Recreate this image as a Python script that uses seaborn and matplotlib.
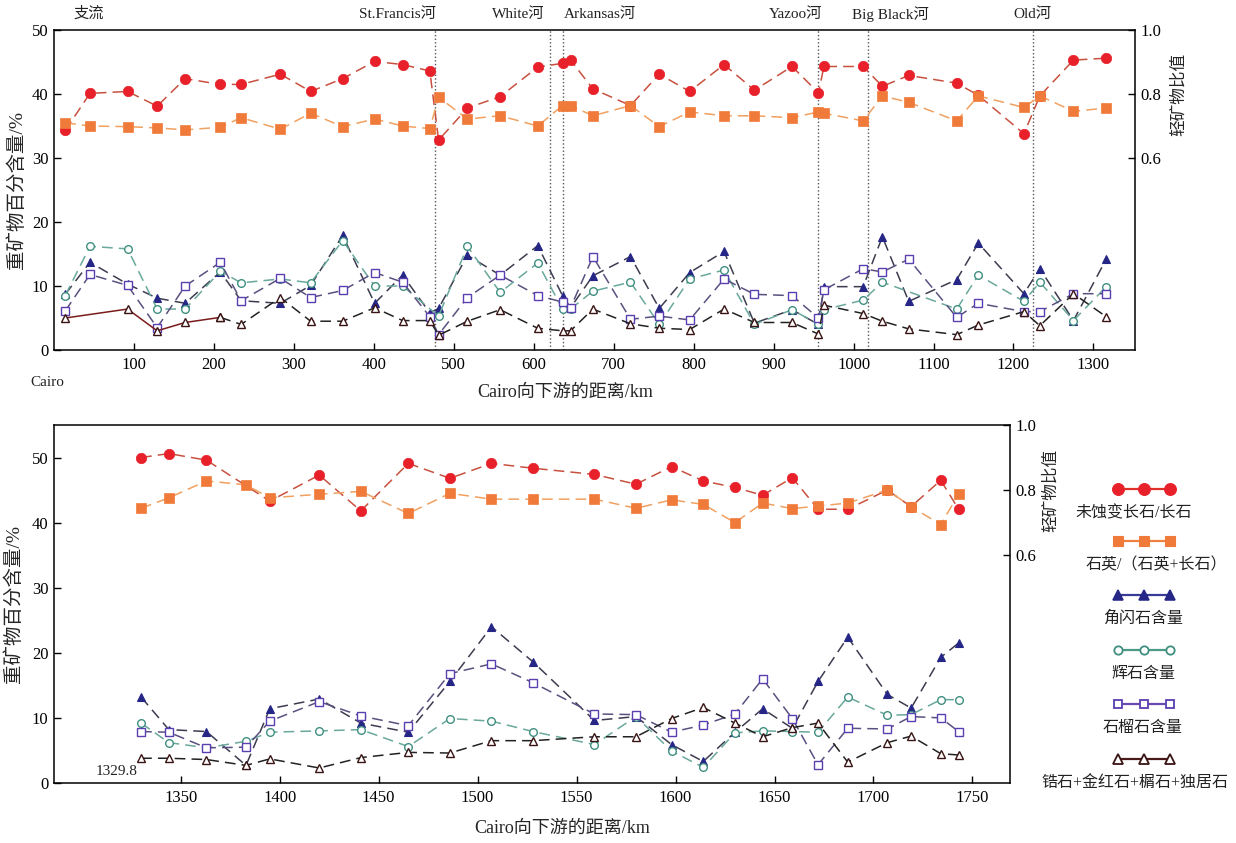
"""
密西西比河下游轻、重矿物沿程变化图
"""

import pandas as pd
import matplotlib
matplotlib.use('Agg')
import matplotlib.pyplot as plt
import matplotlib.transforms as mtransforms
import seaborn as sns
import warnings
warnings.filterwarnings('ignore')

# ==================== 数据 ====================
# 上图：Cairo 向下游距离 (km)
KM_TOP = [14, 45, 92, 129, 164, 208, 234, 283, 321, 361, 401, 436, 470, 481, 517,
          558, 605, 636, 646, 674, 721, 757, 795, 838, 876, 923, 956, 963, 1012,
          1036, 1069, 1129, 1156, 1213, 1233, 1275, 1316]
# 轻矿物比值（右轴）
FELD_TOP = [0.686, 0.802, 0.808, 0.762, 0.848, 0.830, 0.830, 0.862, 0.808, 0.848,
            0.902, 0.892, 0.872, 0.656, 0.756, 0.792, 0.884, 0.896, 0.906, 0.816,
            0.764, 0.862, 0.808, 0.892, 0.812, 0.886, 0.804, 0.886, 0.886, 0.824,
            0.858, 0.834, 0.796, 0.676, 0.794, 0.906, 0.912]
QTZ_TOP = [0.710, 0.700, 0.698, 0.694, 0.688, 0.696, 0.726, 0.690, 0.740, 0.698,
           0.722, 0.700, 0.692, 0.790, 0.722, 0.732, 0.700, 0.764, 0.764, 0.732,
           0.764, 0.698, 0.744, 0.732, 0.732, 0.726, 0.744, 0.740, 0.716, 0.794,
           0.774, 0.716, 0.794, 0.758, 0.794, 0.746, 0.756]
# 重矿物百分含量（左轴，%）
AMPH_TOP = [8.7, 13.7, 10.3, 8.1, 7.3, 12.2, 7.7, 7.3, 10.1, 17.9, 7.3, 11.7, 5.8,
            6.5, 14.8, 11.7, 16.3, 8.5, 6.6, 11.6, 14.6, 6.5, 12.1, 15.4, 4.2, 6.3,
            4.0, 9.9, 9.9, 17.7, 7.6, 11.0, 16.7, 8.8, 12.7, 4.6, 14.2]
PYX_TOP = [8.5, 16.2, 15.8, 6.4, 6.4, 12.3, 10.5, 11.1, 10.5, 17.1, 10.0, 10.0, None,
           5.3, 16.2, 9.0, 13.6, 6.4, 6.4, 9.2, 10.6, 4.0, 11.1, 12.5, 4.0, 6.3,
           4.0, 6.3, 7.8, 10.6, None, 6.4, 11.7, 7.6, 10.6, 4.6, 9.9]
GRT_TOP = [6.1, 11.8, 10.1, 3.5, 10.0, 13.7, 7.7, 11.2, 8.2, 9.3, 12.1, 10.6, 5.2,
           2.4, 8.2, 11.7, 8.5, 7.5, 6.6, 14.6, 4.8, 5.3, 4.7, 11.1, 8.7, 8.5,
           5.0, 9.4, 12.7, 12.2, 14.2, 5.1, 7.3, 6.0, 6.0, 8.8, 8.8]
ACC_TOP = [5.0, None, 6.4, 3.0, 4.3, 5.1, 4.0, 8.2, 4.5, 4.5, 6.6, 4.6, 4.6, 2.3,
           4.5, 6.3, 3.4, 3.0, 3.0, 6.4, 4.1, 3.4, 3.2, 6.4, 4.3, 4.3, 2.5, 7.0,
           5.7, 4.5, 3.3, 2.4, 3.9, 6.0, 3.8, 8.8, 5.2]

# 支流汇入位置
RIVER_KM = [476, 620, 637, 955, 1018, 1225]
RIVER_NAMES = ['支流', 'St.Francis河', 'White河', 'Arkansas河', 'Yazoo河',
               'Big Black河', 'Old河']
RIVER_LABEL_KM = [43, 430, 581, 683, 927, 1046, 1223]

# 下图
KM_BOT = [1330, 1344, 1363, 1383, 1395, 1420, 1441, 1465, 1486, 1507, 1528, 1559,
          1580, 1598, 1614, 1630, 1644, 1659, 1672, 1687, 1707, 1719, 1734, 1743]
FELD_BOT = [0.900, 0.912, 0.892, None, 0.766, 0.846, 0.736, 0.882, 0.836, 0.882,
            0.867, 0.848, 0.818, 0.872, 0.828, 0.808, 0.784, 0.838, 0.741, 0.741,
            0.800, 0.749, 0.830, 0.741]
QTZ_BOT = [0.744, 0.776, 0.828, 0.816, 0.776, 0.787, 0.796, 0.728, 0.790, 0.772,
           0.772, 0.772, 0.744, 0.770, 0.756, 0.700, 0.760, 0.743, 0.751, 0.760,
           0.800, 0.749, 0.694, 0.787]
AMPH_BOT = [13.2, 8.2, 7.9, 2.7, 11.4, 12.9, 9.2, 7.8, 15.6, 24.0, 18.6, 9.6, 10.2,
            5.9, 3.3, 7.8, 11.4, 8.4, 15.6, 22.4, 13.6, 11.5, 19.3, 21.5]
PYX_BOT = [9.2, 6.2, 5.4, 6.4, 7.8, 8.0, 8.2, 5.6, 9.9, 9.5, 7.9, 5.9, 10.2, 4.9,
           2.4, 7.7, 8.0, 7.9, 7.8, 13.2, 10.4, 10.5, 12.8, 12.8]
GRT_BOT = [7.9, 7.8, 5.4, 5.5, 9.5, 12.5, 10.3, 8.8, 16.8, 18.3, 15.4, 10.6, 10.5,
           7.8, 8.9, 10.6, 16.0, 9.9, 2.8, 8.4, 8.3, 10.2, 10.0, 7.9]
ACC_BOT = [3.8, 3.8, 3.6, 2.7, 3.7, 2.3, 3.9, 4.7, 4.6, 6.5, 6.5, 7.1, 7.1, 9.9,
           11.6, 9.2, 7.1, 8.5, 9.2, 3.2, 6.2, 7.2, 4.5, 4.3]

LEGEND_LABELS = ['未蚀变长石/长石', '石英/（石英+长石）', '角闪石含量', '辉石含量',
                 '石榴石含量', '锆石+金红石+榍石+独居石']

# ==================== 样式 ====================
sns.set_theme(style='ticks')
plt.rcParams['font.family'] = ['Liberation Serif', 'Noto Sans CJK SC']
plt.rcParams['axes.unicode_minus'] = False
plt.rcParams['axes.edgecolor'] = 'black'
plt.rcParams['axes.linewidth'] = 1.1
plt.rcParams['xtick.direction'] = 'in'
plt.rcParams['ytick.direction'] = 'in'
plt.rcParams['xtick.major.size'] = 5
plt.rcParams['ytick.major.size'] = 5
plt.rcParams['xtick.color'] = 'black'
plt.rcParams['ytick.color'] = 'black'
plt.rcParams['text.color'] = '#222222'

DASH = (0, (7, 4))
STYLE = {
    'feld': dict(line='#c8503f', marker='o', ms=7.5, mfc='#e8202a', mec='#e8202a', mew=0.5, lgd='#e0302a'),
    'qtz': dict(line='#f0a060', marker='s', ms=6.5, mfc='#f07a3a', mec='#f07a3a', mew=0.5, lgd='#f08040'),
    'amph': dict(line='#3c3c50', marker='^', ms=6.0, mfc='#262686', mec='#262686', mew=0.8, lgd='#3a3a98'),
    'pyx': dict(line='#6aa89c', marker='o', ms=5.5, mfc='white', mec='#3f8f80', mew=1.0, lgd='#4c9a88'),
    'grt': dict(line='#5a5080', marker='s', ms=5.5, mfc='white', mec='#5a3fb0', mew=1.0, lgd='#6a4ab0'),
    'acc': dict(line='#222222', marker='^', ms=6.0, mfc='white', mec='#3a1414', mew=1.0, lgd='#4a1a1a'),
}

FS_TICK = 12
FS_LABEL = 13


def draw_series(ax, km, vals, key, linestyle=DASH, line_color=None):
    """用 seaborn 画一条带标记的折线"""
    df = pd.DataFrame({'km': km, 'v': vals}).dropna()
    st = STYLE[key]
    sns.lineplot(data=df, x='km', y='v', ax=ax, estimator=None, sort=False,
                 color=line_color or st['line'], linestyle=linestyle, linewidth=1.1,
                 marker=st['marker'], markersize=st['ms'],
                 markerfacecolor=st['mfc'], markeredgecolor=st['mec'],
                 markeredgewidth=st['mew'], legend=False)


def style_axes(ax, ax2, right_label_xy, left_label_xy, xlabel_xy):
    ax.set_ylabel('重矿物百分含量/%', fontsize=14)
    ax.yaxis.set_label_coords(*left_label_xy)
    ax.set_xlabel('Cairo向下游的距离/km', fontsize=FS_LABEL)
    ax.xaxis.set_label_coords(*xlabel_xy)
    ax.tick_params(labelsize=FS_TICK, width=1.0, pad=5)
    ax.tick_params(axis='y', pad=4)
    ax2.tick_params(labelsize=FS_TICK, width=1.0, pad=4, direction='in')
    ax2.set_yticks([0.6, 0.8, 1.0])
    ax2.set_yticklabels(['0.6', '0.8', '1.0'])
    ax2.set_ylabel('轻矿物比值', fontsize=12)
    ax2.yaxis.set_label_coords(*right_label_xy)
    for s in ax2.spines.values():
        s.set_visible(False)
    for s in ax.spines.values():
        s.set_visible(True)
        s.set_color('black')


# ==================== 画布 ====================
fig = plt.figure(figsize=(12.36, 8.43), dpi=100)
fig.patch.set_facecolor('white')

# ---------- 上图 ----------
ax = fig.add_axes([0.0437, 0.5848, 0.8746, 0.3796])
ax2 = ax.twinx()

for km in RIVER_KM:
    ax.axvline(km, color='#555555', linestyle=(0, (1, 1.6)), linewidth=1.0, zorder=1)

draw_series(ax, KM_TOP, AMPH_TOP, 'amph')
draw_series(ax, KM_TOP, PYX_TOP, 'pyx')
draw_series(ax, KM_TOP, GRT_TOP, 'grt')
# 锆石等：上游段为实线
acc_df = pd.DataFrame({'km': KM_TOP, 'v': ACC_TOP}).dropna()
first = acc_df[acc_df['km'] <= 208]
rest = acc_df[acc_df['km'] >= 208]
draw_series(ax, first['km'].tolist(), first['v'].tolist(), 'acc', linestyle='-', line_color='#7a1c1c')
draw_series(ax, rest['km'].tolist(), rest['v'].tolist(), 'acc')

draw_series(ax2, KM_TOP, FELD_TOP, 'feld')
draw_series(ax2, KM_TOP, QTZ_TOP, 'qtz')

ax.set_xlim(0, 1352)
ax.set_ylim(0, 50)
ax2.set_ylim(0, 1.0)
ax.set_xticks(range(100, 1301, 100))
ax.set_yticks(range(0, 51, 10))
style_axes(ax, ax2, (1.033, 0.80), (-0.026, 0.5), (0.473, -0.105))

top_trans = mtransforms.blended_transform_factory(ax.transData, ax.transAxes)
for name, km in zip(RIVER_NAMES, RIVER_LABEL_KM):
    ax.text(km, 1.05, name, transform=top_trans, ha='center', va='center',
            fontsize=11, clip_on=False)
ax.text(-9, -0.1, 'Cairo', transform=top_trans, ha='center', va='center',
        fontsize=11, clip_on=False)

# ---------- 下图 ----------
axb = fig.add_axes([0.0437, 0.0712, 0.7735, 0.4247])
axb2 = axb.twinx()

draw_series(axb, KM_BOT, AMPH_BOT, 'amph')
draw_series(axb, KM_BOT, PYX_BOT, 'pyx')
draw_series(axb, KM_BOT, GRT_BOT, 'grt')
draw_series(axb, KM_BOT, ACC_BOT, 'acc')
draw_series(axb2, KM_BOT, FELD_BOT, 'feld')
draw_series(axb2, KM_BOT, QTZ_BOT, 'qtz')

axb.set_xlim(1286, 1769)
axb.set_ylim(0, 55)
axb2.set_ylim(-0.1, 1.0)
axb.set_xticks(range(1350, 1751, 50))
axb.set_yticks(range(0, 51, 10))
style_axes(axb, axb2, (1.034, 0.818), (-0.032, 0.5), (0.532, -0.103))
axb.text(1328, 1.7, '1329.8', ha='right', va='center', fontsize=11)

# ---------- 图例 ----------
lax = fig.add_axes([1030 / 1236, 43 / 843, 206 / 1236, 330 / 843])
lax.set_xlim(1030, 1236)
lax.set_ylim(800, 470)
lax.axis('off')
keys = ['feld', 'qtz', 'amph', 'pyx', 'grt', 'acc']
line_y = [489, 541, 595, 650, 704, 759]
text_x = [1134, 1156, 1143, 1143, 1143, 1135]
for key, label, ly, tx in zip(keys, LEGEND_LABELS, line_y, text_x):
    st = STYLE[key]
    ms = st['ms'] + (1.0 if key in ('feld', 'qtz') else 0.5)
    lax.plot([1118, 1144, 1170], [ly, ly, ly], color=st['lgd'], linewidth=1.6,
             marker=st['marker'], markersize=ms, markerfacecolor=st['mfc'],
             markeredgecolor=st['mec'], markeredgewidth=st['mew'] + 0.3)
    lax.text(tx, ly + 24, label, ha='center', va='center', fontsize=11.5)

fig.savefig('out.png', dpi=100, facecolor='white')
plt.close(fig)
